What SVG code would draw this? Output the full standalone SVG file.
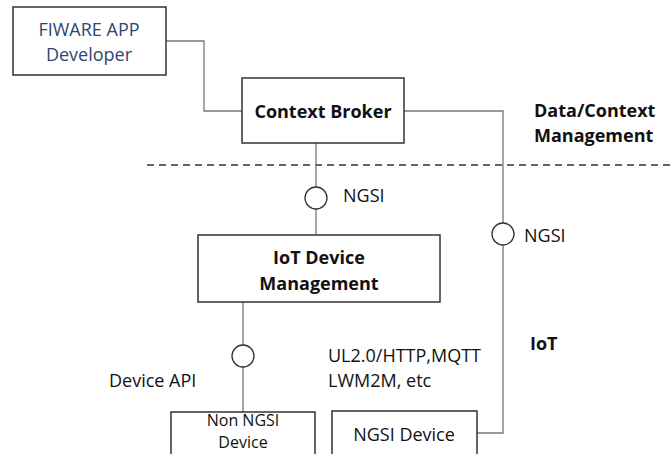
<svg xmlns="http://www.w3.org/2000/svg" width="670" height="454" viewBox="0 0 670 454">
<style>
.box{fill:#fff;stroke:#333;stroke-width:1.5}
.ln{fill:none;stroke:#777;stroke-width:1.3}
.if{fill:#fff;stroke:#333;stroke-width:1.3}
text{font-family:"Open Sans","Liberation Sans",sans-serif;font-size:18px;fill:#111;dominant-baseline:central}
.b{font-weight:bold}
.c{text-anchor:middle}
.blue{fill:#2f4670}
.s{font-size:16px}
</style>
<rect width="670" height="454" fill="#fff"/>
<line x1="147" y1="165" x2="670" y2="165" stroke="#333" stroke-width="1.5" stroke-dasharray="7,5"/>
<g id="connectors">
<polyline class="ln" points="166,41 204,41 204,111 242,111"/>
<polyline class="ln" points="404,111 503,111 503,433 477,433"/>
<line class="ln" x1="316" y1="143" x2="316" y2="235"/>
<line class="ln" x1="243" y1="302" x2="243" y2="412"/>
<circle class="if" cx="316" cy="198" r="11"/>
<circle class="if" cx="503" cy="234" r="11"/>
<circle class="if" cx="243" cy="356" r="11"/>
</g>
<g id="fiware">
<rect class="box" x="13" y="7" width="153" height="68"/>
<text class="c blue" x="89" y="29">FIWARE APP</text>
<text class="c blue" x="89" y="54">Developer</text>
</g>
<g id="broker">
<rect class="box" x="242" y="78" width="162" height="65"/>
<text class="c b" x="323" y="111">Context Broker</text>
</g>
<g id="iotdm">
<rect class="box" x="198" y="235" width="242" height="67"/>
<text class="c b" x="319" y="257">IoT Device</text>
<text class="c b" x="319" y="283">Management</text>
</g>
<g id="nonngsi">
<rect class="box" x="171" y="412" width="144" height="50"/>
<text class="c s" x="243" y="420">Non NGSI</text>
<text class="c s" x="243" y="442">Device</text>
</g>
<g id="ngsidev">
<rect class="box" x="332" y="411" width="145" height="50"/>
<text class="c" x="404" y="434">NGSI Device</text>
</g>
<g id="labels">
<text class="b" x="534" y="110">Data/Context</text>
<text class="b" x="534" y="135">Management</text>
<text x="343" y="195">NGSI</text>
<text x="524" y="235">NGSI</text>
<text x="328" y="355">UL2.0/HTTP,MQTT</text>
<text x="328" y="380">LWM2M, etc</text>
<text x="109" y="380">Device API</text>
<text class="b" x="530" y="343">IoT</text>
</g>
</svg>
